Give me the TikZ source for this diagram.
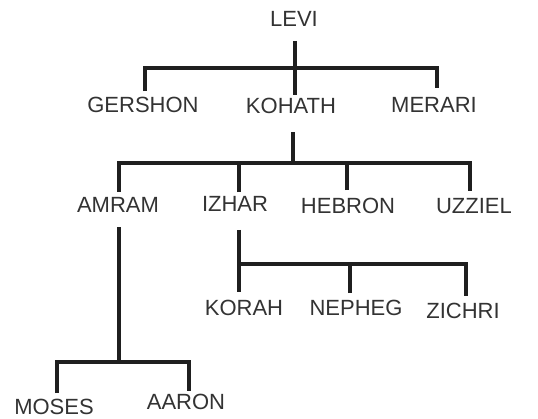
\documentclass[tikz,border=0pt]{standalone}
\usepackage{fontspec}
\setmainfont{Liberation Sans}
\usetikzlibrary{calc}
\begin{document}
\begin{tikzpicture}[x=1pt,y=-1pt,
  person/.style={font=\fontsize{22}{22}\selectfont, text=black!80, inner sep=0pt, text height=15.5pt, text depth=0pt, anchor=center},
  link/.style={line width=3.2pt, draw=black!88}]
\useasboundingbox[fill=white] (0,0) rectangle (538,418);
\node[person] (levi) at (294,19) {LEVI};
\node[person] (gershon) at (143,105) {GERSHON};
\node[person] (kohath) at (291,105.5) {KOHATH};
\node[person] (merari) at (434,105) {MERARI};
\node[person] (amram) at (118,204.5) {AMRAM};
\node[person] (izhar) at (235,204) {IZHAR};
\node[person] (hebron) at (348,206) {HEBRON};
\node[person] (uzziel) at (474,206) {UZZIEL};
\node[person] (korah) at (244,308) {KORAH};
\node[person] (nepheg) at (356,308) {NEPHEG};
\node[person] (zichri) at (463,311) {ZICHRI};
\node[person] (moses) at (54,407) {MOSES};
\node[person] (aaron) at (186,401.5) {AARON};
% junctions
\coordinate (j1) at (295,68);
\coordinate (j2) at (293,163);
\coordinate (j3) at (119,362);
\coordinate (j4) at (239,264);
% Levi
\draw[link] ($(levi.south)+(1pt,-14pt)$) -- ($(kohath.north)+(4pt,3pt)$);
\draw[link] ($(gershon.north)+(2pt,6pt)$) |- (j1) -| ($(merari.north)+(3pt,9pt)$);
% Kohath
\draw[link] ($(kohath.south)+(2pt,-19pt)$) -- (j2);
\draw[link] ($(amram.north)+(1pt,5pt)$) |- (j2) -| ($(uzziel.north)+(-4pt,7pt)$);
\draw[link] ($(izhar.north)+(4pt,4pt)$) -- ++(0pt,28pt);
\draw[link] ($(hebron.north)+(-1pt,8pt)$) -- ++(0pt,27pt);
% Amram
\draw[link] ($(amram.south)+(1pt,-15pt)$) -- (j3);
\draw[link] ($(moses.north)+(3pt,6pt)$) |- (j3) -| ($(aaron.north)+(3pt,3pt)$);
% Izhar
\draw[link] ($(izhar.south)+(4pt,-18pt)$) -- ($(korah.north)+(-5pt,8pt)$);
\draw[link] (j4) -| ($(zichri.north)+(3pt,7pt)$);
\draw[link] ($(nepheg.north)+(-6pt,7pt)$) -- ++(0pt,29pt);
\end{tikzpicture}
\end{document}
